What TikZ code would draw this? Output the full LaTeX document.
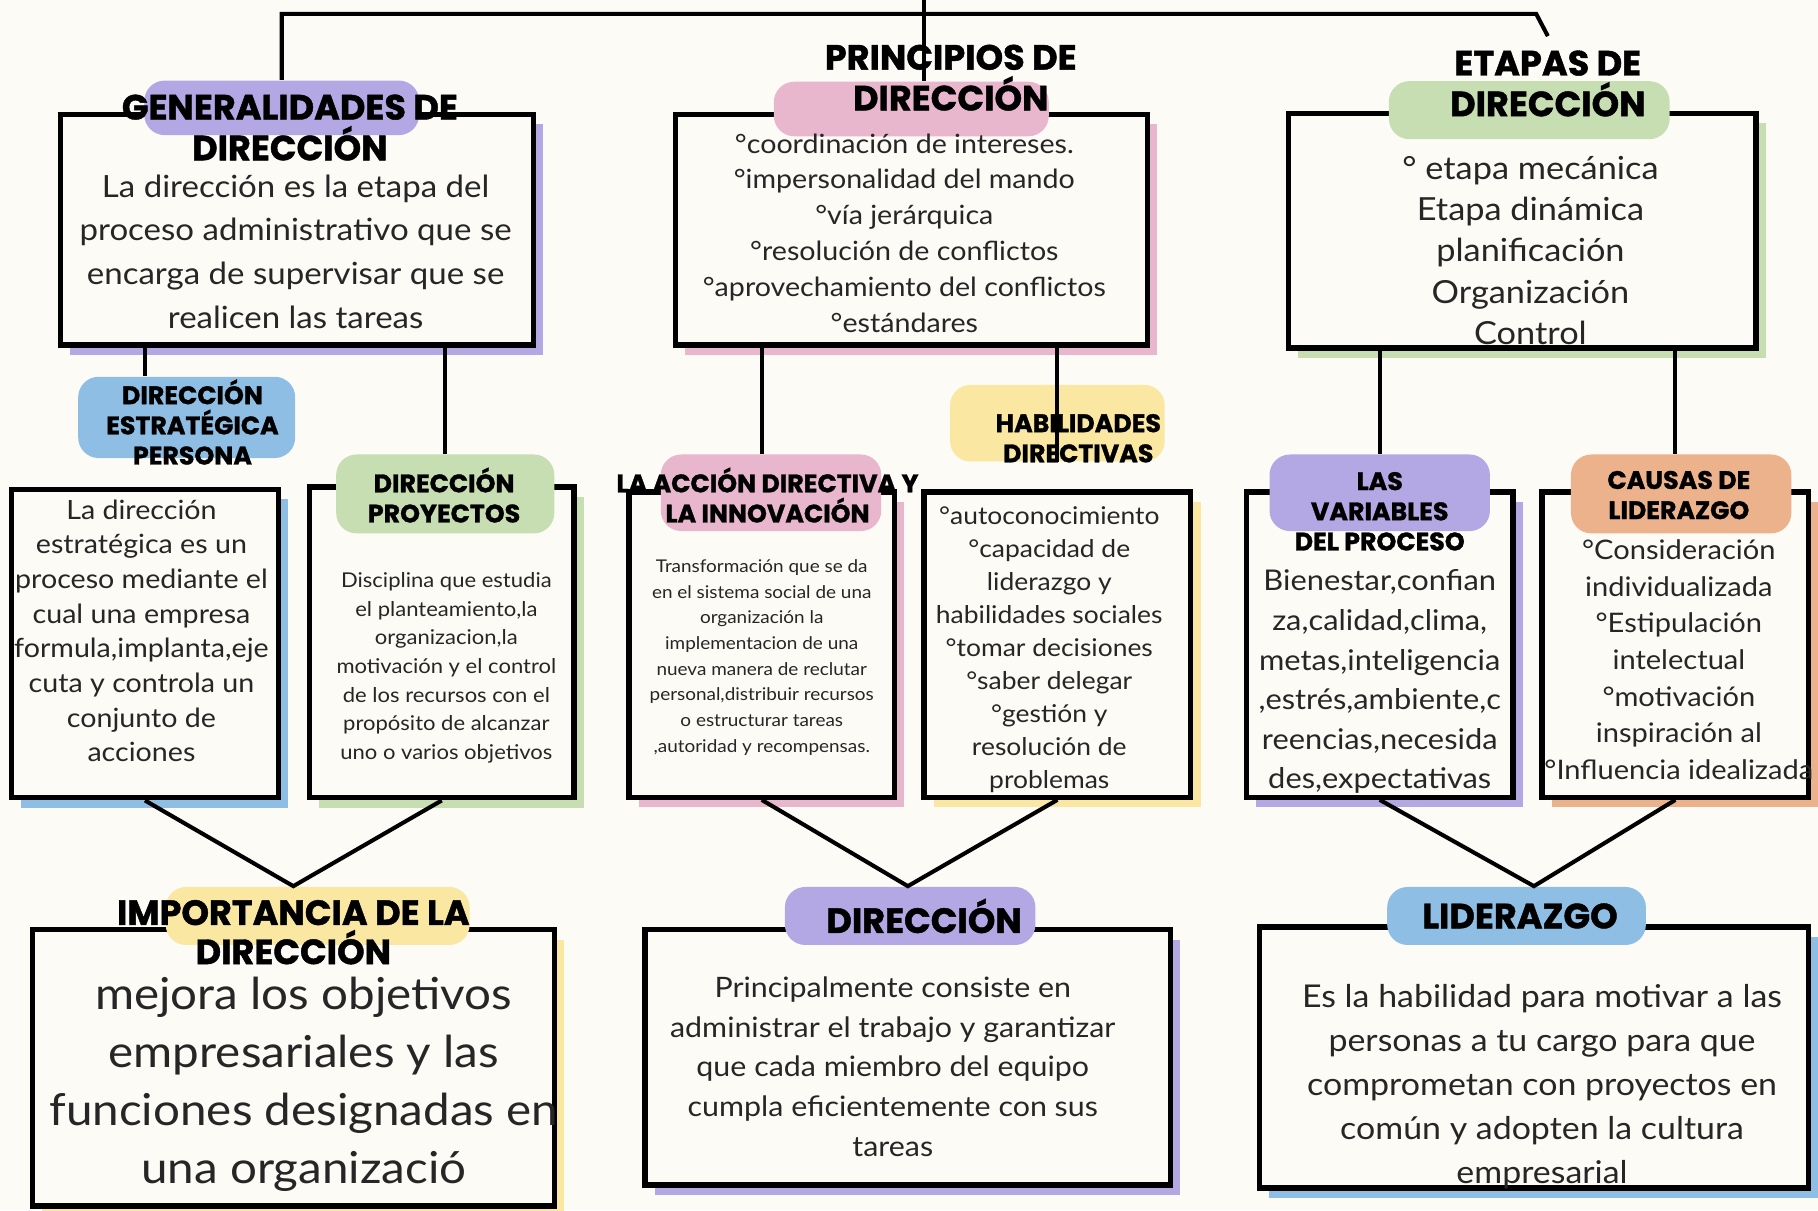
\documentclass[tikz,border=0pt]{standalone}
\usepackage{fontspec}
\setmainfont{Lato}[FakeStretch=1.08]
\newfontfamily\headfont{Poppins}[BoldFeatures={FakeBold=1.2}]
\usetikzlibrary{shadows}

\definecolor{paper}{RGB}{252,251,246}
\definecolor{lila}{RGB}{180,168,228}
\definecolor{rosa}{RGB}{232,182,205}
\definecolor{verde}{RGB}{198,222,178}
\definecolor{celeste}{RGB}{142,190,228}
\definecolor{amarillo}{RGB}{249,231,162}
\definecolor{naranja}{RGB}{236,178,140}

\newcommand\tam[2]{\fontsize{#1}{#2}\selectfont}

\tikzset{
  caja/.style={draw=black, line width=1.3pt, fill=paper, inner sep=0pt,
    drop shadow={shadow xshift=2.4pt, shadow yshift=-2.4pt, fill=#1, opacity=1}},
  pastilla/.style={fill=#1, rounded corners=5pt, inner sep=0pt},
  titulo/.style={font=\headfont\bfseries, align=center, text=black},
  texto/.style={align=center, text=black!85},
  enlace/.style={line width=1pt}
}

\begin{document}
\begin{tikzpicture}[x=0.01cm, y=-0.01cm]
    \fill[paper] (0,0) rectangle (1568,1044);
    \useasboundingbox (0,0) rectangle (1568,1044);

    % Boxes
    \node[caja=lila, minimum width=4.08cm, minimum height=1.99cm] (gen) at (256,198) {};
    \node[caja=rosa, minimum width=4.07cm, minimum height=1.99cm] (prin) at (786,198) {};
    \node[caja=verde, minimum width=4.03cm, minimum height=2.02cm] (eta) at (1313,199) {};

    \node[caja=celeste, minimum width=2.30cm, minimum height=2.66cm] (estB) at (125,555) {};
    \node[caja=verde, minimum width=2.28cm, minimum height=2.68cm] (proB) at (381,554) {};
    \node[caja=rosa, minimum width=2.29cm, minimum height=2.63cm] (accB) at (657,556) {};
    \node[caja=amarillo, minimum width=2.30cm, minimum height=2.63cm] (habB) at (912,556) {};
    \node[caja=lila, minimum width=2.30cm, minimum height=2.63cm] (varB) at (1190,556) {};
    \node[caja=naranja, minimum width=2.30cm, minimum height=2.63cm] (cauB) at (1445,556) {};

    \node[caja=amarillo, minimum width=4.50cm, minimum height=2.38cm] (impB) at (253,921) {};
    \node[caja=lila, minimum width=4.53cm, minimum height=2.20cm] (dirB) at (783,912) {};
    \node[caja=celeste, minimum width=4.73cm, minimum height=2.25cm] (lidB) at (1323,912) {};

    % Labels
    \node[pastilla=lila, minimum width=2.37cm, minimum height=0.47cm] (genP) at (243,93) {};
    \node[pastilla=rosa, minimum width=2.37cm, minimum height=0.47cm] (prinP) at (786,94) {};
    \node[pastilla=verde, minimum width=2.42cm, minimum height=0.50cm] (etaP) at (1319,95) {};
    \node[pastilla=celeste, minimum width=1.87cm, minimum height=0.70cm] (estP) at (161,360) {};
    \node[pastilla=verde, minimum width=1.88cm, minimum height=0.68cm] (proP) at (384,426) {};
    \node[pastilla=rosa, minimum width=1.90cm, minimum height=0.66cm] (accP) at (665,425) {};
    \node[pastilla=amarillo, minimum width=1.85cm, minimum height=0.66cm] (habP) at (912,365) {};
    \node[pastilla=lila, minimum width=1.90cm, minimum height=0.66cm] (varP) at (1190,425) {};
    \node[pastilla=naranja, minimum width=1.90cm, minimum height=0.68cm] (cauP) at (1450,426) {};
    \node[pastilla=amarillo, minimum width=2.62cm, minimum height=0.50cm] (impP) at (274,790) {};
    \node[pastilla=lila, minimum width=2.16cm, minimum height=0.50cm] (dirP) at (785,790) {};
    \node[pastilla=celeste, minimum width=2.23cm, minimum height=0.50cm] (lidP) at (1308,790) {};

    \node[titulo, font=\headfont\bfseries\tam{8.6}{10}] (genT) at (250,110) {GENERALIDADES DE\\DIRECCIÓN};
    \node[titulo, font=\headfont\bfseries\tam{8.6}{10}] (prinT) at (820,67) {PRINCIPIOS DE\\DIRECCIÓN};
    \node[titulo, font=\headfont\bfseries\tam{8.6}{10}] (etaT) at (1335,72) {ETAPAS DE\\DIRECCIÓN};
    \node[titulo, font=\headfont\bfseries\tam{6.2}{7.4}] (estT) at (166,364) {DIRECCIÓN\\ESTRATÉGICA\\PERSONA};
    \node[titulo, font=\headfont\bfseries\tam{6.2}{7.4}] (proT) at (383,427) {DIRECCIÓN\\PROYECTOS};
    \node[titulo, font=\headfont\bfseries\tam{6.2}{7.4}] (accT) at (662,427) {LA ACCIÓN DIRECTIVA Y\\LA INNOVACIÓN};
    \node[titulo, font=\headfont\bfseries\tam{6.2}{7.4}] (habT) at (930,378) {HABILIDADES\\DIRECTIVAS};
    \node[titulo, font=\headfont\bfseries\tam{6.2}{7.4}] (varT) at (1190,441) {LAS\\VARIABLES\\DEL PROCESO};
    \node[titulo, font=\headfont\bfseries\tam{6.2}{7.4}] (cauT) at (1448,427) {CAUSAS DE\\LIDERAZGO};
    \node[titulo, font=\headfont\bfseries\tam{8.6}{9.6}] (impT) at (253,804) {IMPORTANCIA DE LA\\DIRECCIÓN};
    \node[titulo, font=\headfont\bfseries\tam{8.6}{10}] (dirT) at (797,790) {DIRECCIÓN};
    \node[titulo, font=\headfont\bfseries\tam{8.6}{10}] (lidT) at (1311,790) {LIDERAZGO};

    % Texts
    \node[texto, font=\tam{7.5}{10.7}] (genX) at (255,217) {La dirección es la etapa del\\proceso administrativo que se\\encarga de supervisar que se\\realicen las tareas};
    \node[texto, font=\tam{6.5}{8.8}] (prinX) at (780,201) {°coordinación de intereses.\\°impersonalidad del mando\\°vía jerárquica\\°resolución de conflictos\\°aprovechamiento del conflictos\\°estándares};
    \node[texto, font=\tam{7.8}{10.1}] (etaX) at (1320,216) {° etapa mecánica\\Etapa dinámica\\planificación\\Organización\\Control};
    \node[texto, font=\tam{6.5}{8.5}] (estX) at (122,544) {La dirección\\estratégica es un\\proceso mediante el\\cual una empresa\\formula,implanta,eje\\cuta y controla un\\conjunto de\\acciones};
    \node[texto, font=\tam{5}{7}] (proX) at (385,576) {Disciplina que estudia\\el planteamiento,la\\organizacion,la\\motivación y el control\\de los recursos con el\\propósito de alcanzar\\uno o varios objetivos};
    \node[texto, font=\tam{4.3}{6.3}] (accX) at (657,567) {Transformación que se da\\en el sistema social de una\\organización la\\implementacion de una\\nueva manera de reclutar\\personal,distribuir recursos\\o estructurar tareas\\,autoridad y recompensas.};
    \node[texto, font=\tam{6}{8.1}] (habX) at (905,560) {°autoconocimiento\\°capacidad de\\liderazgo y\\habilidades sociales\\°tomar decisiones\\°saber delegar\\°gestión y\\resolución de\\problemas};
    \node[texto, font=\tam{7}{9.7}] (varX) at (1190,588) {Bienestar,confian\\za,calidad,clima,\\metas,inteligencia\\,estrés,ambiente,c\\reencias,necesida\\des,expectativas};
    \node[texto, font=\tam{6.6}{9}] (cauX) at (1448,569) {°Consideración\\individualizada\\°Estipulación\\intelectual\\°motivación\\inspiración al\\°Influencia idealizada};
    \node[texto, font=\tam{10.8}{14.2}] (impX) at (262,935) {mejora los objetivos\\empresariales y las\\funciones designadas en\\una organizació};
    \node[texto, font=\tam{6.9}{9.7}] (dirX) at (770,920) {Principalmente consiste en\\administrar el trabajo y garantizar\\que cada miembro del equipo\\cumpla eficientemente con sus\\tareas};
    \node[texto, font=\tam{7.7}{10.8}] (lidX) at (1330,937) {Es la habilidad para motivar a las\\personas a tu cargo para que\\comprometan con proyectos en\\común y adopten la cultura\\empresarial};

    % Arcs
    \coordinate (cima) at (797,0);
    \coordinate (barra) at (797,12);
    \draw[enlace] (cima) -- (cima |- prinP.north);
    \draw[enlace] (genP.north) |- ([xshift=-0.1cm]etaT.north |- barra) -- (etaT.north);

    \draw[enlace] (gen.south -| estB.north) -- (estB.north |- estP.north);
    \draw[enlace] (gen.south -| proP.north) -- (proP.north);
    \draw[enlace] (prin.south -| accB.north) -- (accB.north |- accP.north);
    \draw[enlace] (prin.south -| habB.north) -- (habB.north |- habP.south);
    \draw[enlace] (eta.south -| varB.north) -- (varB.north |- varP.north);
    \draw[enlace] (eta.south -| cauB.north) -- (cauB.north |- cauP.north);

    \draw[enlace] (estB.south) -- (impB.north |- impP.north) -- (proB.south);
    \draw[enlace] (accB.south) -- (dirB.north |- dirP.north) -- (habB.south);
    \draw[enlace] (varB.south) -- (lidB.north |- lidP.north) -- (cauB.south);
\end{tikzpicture}
\end{document}
